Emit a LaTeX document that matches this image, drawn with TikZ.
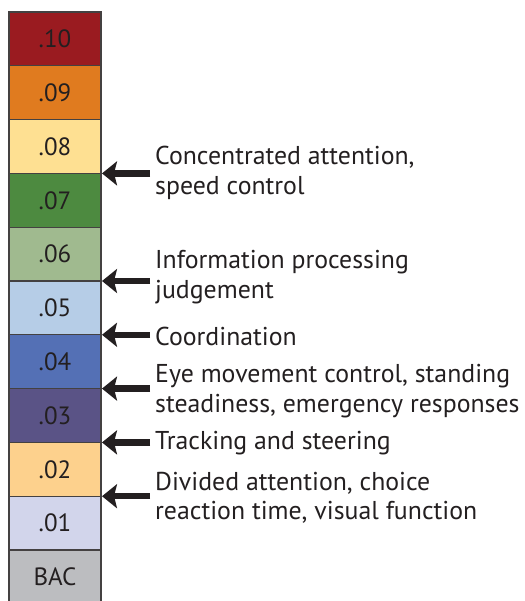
\documentclass[tikz,border=0pt]{standalone}
\usepackage{fontspec}
\setmainfont{PT Sans}
\usetikzlibrary{arrows.meta}
\definecolor{c10}{HTML}{9A1B20}
\definecolor{c09}{HTML}{E07B1F}
\definecolor{c08}{HTML}{FEE092}
\definecolor{c07}{HTML}{4D8A40}
\definecolor{c06}{HTML}{A0BA8F}
\definecolor{c05}{HTML}{B6CDE7}
\definecolor{c04}{HTML}{5470B5}
\definecolor{c03}{HTML}{5A5386}
\definecolor{c02}{HTML}{FDD18D}
\definecolor{c01}{HTML}{D2D5EB}
\definecolor{cbac}{HTML}{BCBDC0}
\definecolor{ink}{HTML}{231F20}
\tikzset{
  seg/.style={draw=ink!85, line width=1.3pt, minimum width=92pt, minimum height=53.8pt,
    inner sep=0pt, outer sep=0pt, anchor=north west, text=ink,
    font=\fontsize{25}{27}\selectfont},
  lab/.style={anchor=west, align=left, inner sep=0pt, text=ink,
    font=\fontsize{25.8}{29.5}\selectfont},
  arr/.style={line width=6.5pt, draw=ink, -{Stealth[length=15pt,width=24pt,inset=3pt]}}
}
\begin{document}
\begin{tikzpicture}[x=1pt,y=-1pt]
\useasboundingbox (0,0) rectangle (524,601);
\node[seg, fill=c10] (s10) at (9,12) {.10};
\node[seg, fill=c09] (s09) at (s10.south west) {.09};
\node[seg, fill=c08] (s08) at (s09.south west) {.08};
\node[seg, fill=c07] (s07) at (s08.south west) {.07};
\node[seg, fill=c06] (s06) at (s07.south west) {.06};
\node[seg, fill=c05] (s05) at (s06.south west) {.05};
\node[seg, fill=c04] (s04) at (s05.south west) {.04};
\node[seg, fill=c03] (s03) at (s04.south west) {.03};
\node[seg, fill=c02] (s02) at (s03.south west) {.02};
\node[seg, fill=c01] (s01) at (s02.south west) {.01};
\node[seg, fill=cbac] (sbac) at (s01.south west) {BAC};

\node[lab] (l1) at (155,173) {Concentrated attention,\\speed control};
\node[lab] (l2) at (155,277) {Information processing\\judgement};
\node[lab] (l3) at (155,336) {Coordination};
\node[lab] (l4) at (155,391) {Eye movement control, standing\\steadiness, emergency responses};
\node[lab] (l5) at (155,443) {Tracking and steering};
\node[lab] (l6) at (155,498) {Divided attention, choice\\reaction time, visual function};

\draw[arr] (150,0 |- s08.south east) -- ([xshift=1pt]s08.south east);
\draw[arr] (150,0 |- s06.south east) -- ([xshift=1pt]s06.south east);
\draw[arr] (150,0 |- s05.south east) -- ([xshift=1pt]s05.south east);
\draw[arr] (150,0 |- s04.south east) -- ([xshift=1pt]s04.south east);
\draw[arr] (150,0 |- s03.south east) -- ([xshift=1pt]s03.south east);
\draw[arr] (150,0 |- s02.south east) -- ([xshift=1pt]s02.south east);
\end{tikzpicture}
\end{document}
